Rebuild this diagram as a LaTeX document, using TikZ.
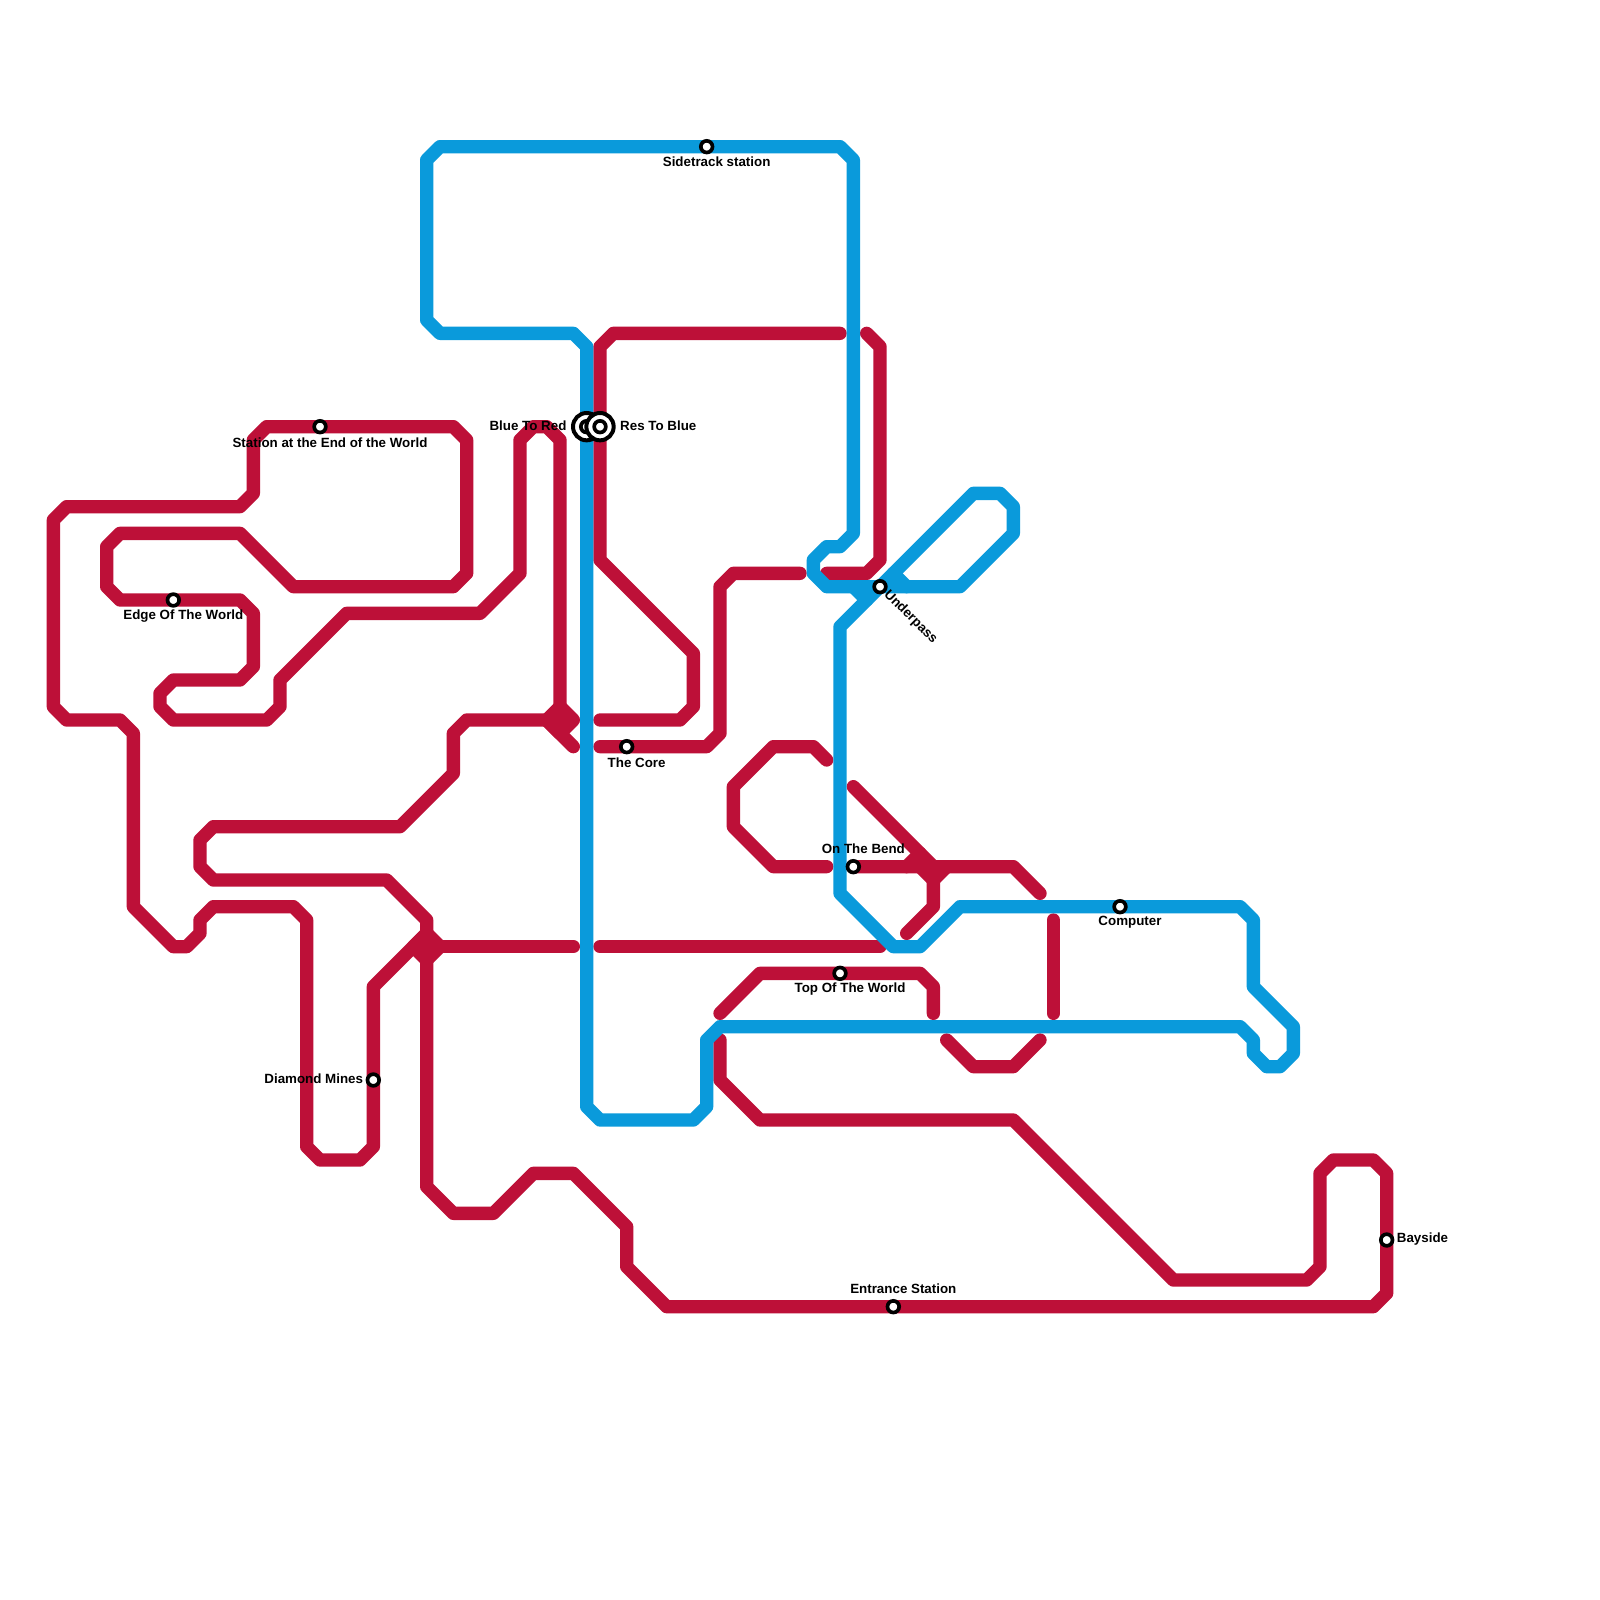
\documentclass[tikz,border=0pt]{standalone}
\usepackage{fontspec}
\setmainfont{Liberation Sans}
\tikzset{
  redline/.style={draw=metrored,line width=0.4cm,line cap=round,line join=round},
  blueline/.style={draw=metroblue,line width=0.4cm,line cap=round,line join=round},
  stationdot/.style={circle,draw=black,line width=0.11cm,fill=white,minimum size=0.35cm,inner sep=0pt},
  hubouter/.style={circle,draw=black,line width=0.12cm,fill=white,minimum size=0.82cm,inner sep=0pt},
  stationlabel/.style={inner sep=0pt,font=\fontsize{11.4}{13}\selectfont\bfseries,text=black}
}
\definecolor{metrored}{HTML}{BD1038}
\definecolor{metroblue}{HTML}{0A9ADB}
\begin{document}
\begin{tikzpicture}[x=0.4cm,y=-0.4cm]
\useasboundingbox[fill=white] (0,0) rectangle (120,120);
% red lines
\draw[redline] (42,53) -- (42,33) -- (41,32) -- (40,32) -- (39,33) -- (39,43) -- (36,46) -- (26,46) -- (21,51) -- (21,53) -- (20,54) -- (13,54) -- (12,53) -- (12,52) -- (13,51) -- (18,51) -- (19,50) -- (19,46) -- (18,45) -- (9,45) -- (8,44) -- (8,41) -- (9,40) -- (18,40) -- (22,44) -- (34,44) -- (35,43) -- (35,33) -- (34,32) -- (20,32) -- (19,33) -- (19,37) -- (18,38) -- (5,38) -- (4,39) -- (4,53) -- (5,54) -- (9,54) -- (10,55) -- (10,68) -- (13,71) -- (14,71) -- (15,70) -- (15,69) -- (16,68) -- (22,68) -- (23,69) -- (23,86) -- (24,87) -- (27,87) -- (28,86) -- (28,74) -- (32,70);
\draw[redline] (32,70) -- (32,69) -- (29,66) -- (16,66) -- (15,65) -- (15,63) -- (16,62) -- (30,62) -- (34,58) -- (34,55) -- (35,54) -- (41,54);
\fill[metrored] (42,53) -- (43,54) -- (42,55) -- (41,54) -- cycle;
\draw[redline] (42,53) -- (43,54) -- (42,55) -- (41,54) -- cycle;
\draw[redline] (41,54) -- (43,56);
\fill[metrored] (32,70) -- (33,71) -- (32,72) -- (31,71) -- cycle;
\draw[redline] (32,70) -- (33,71) -- (32,72) -- (31,71) -- cycle;
\draw[redline] (33,71) -- (43,71);
\draw[redline] (32,72) -- (32,89) -- (34,91) -- (37,91) -- (40,88) -- (43,88) -- (47,92) -- (47,95) -- (50,98) -- (103,98) -- (104,97) -- (104,88) -- (103,87) -- (100,87) -- (99,88) -- (99,95) -- (98,96) -- (88,96) -- (76,84) -- (57,84) -- (54,81) -- (54,78);
\draw[redline] (45,56) -- (53,56) -- (54,55) -- (54,44) -- (55,43) -- (60,43);
\draw[redline] (45,54) -- (51,54) -- (52,53) -- (52,49) -- (45,42) -- (45,26) -- (46,25) -- (63,25);
\draw[redline] (62,43) -- (65,43) -- (66,42) -- (66,26) -- (65,25);
\draw[redline] (45,71) -- (66,71);
\draw[redline] (54,76) -- (57,73) -- (69,73) -- (70,74) -- (70,76);
\draw[redline] (71,78) -- (73,80) -- (76,80) -- (78,78);
\draw[redline] (79,69) -- (79,76);
\draw[redline] (78,67) -- (76,65) -- (64,65);
\draw[redline] (62,65) -- (58,65) -- (55,62) -- (55,59) -- (58,56) -- (61,56) -- (62,57);
\draw[redline] (64,59) -- (70,65) -- (70,68) -- (68,70);
\draw[redline] (68,65) -- (69,64);
\draw[redline] (69,65) -- (70,66) -- (71,65);
% blue line
\draw[blueline] (32,12) -- (33,11) -- (63,11) -- (64,12) -- (64,40) -- (63,41) -- (62,41) -- (61,42) -- (61,43) -- (62,44) -- (72,44) -- (76,40) -- (76,38) -- (75,37) -- (73,37) -- (63,47) -- (63,67) -- (67,71) -- (69,71) -- (72,68) -- (93,68) -- (94,69) -- (94,74) -- (97,77) -- (97,79) -- (96,80) -- (95,80) -- (94,79) -- (94,78) -- (93,77) -- (54,77) -- (53,78) -- (53,83) -- (52,84) -- (45,84) -- (44,83) -- (44,26) -- (43,25) -- (33,25) -- (32,24) -- cycle;
\draw[blueline] (64,44) -- (65,45);
\draw[blueline] (67,43) -- (68,44);
% labels
\node[stationlabel,anchor=center] (l1) at (53.75,12.12) {Sidetrack station};
\node[stationlabel,anchor=center] (l2) at (24.75,33.17) {Station at the End of the World};
\node[stationlabel,anchor=center] (l3) at (13.75,46.2) {Edge Of The World};
\node[stationlabel,anchor=east] (l4) at (27.25,80.93) {Diamond Mines};
\node[stationlabel,anchor=center] (l5) at (47.75,57.2) {The Core};
\node[stationlabel,anchor=center] (l6) at (64.75,63.63) {On The Bend};
\node[stationlabel,anchor=center] (l7) at (63.75,74.2) {Top Of The World};
\node[stationlabel,anchor=center] (l8) at (84.75,69.2) {Computer};
\node[stationlabel,anchor=west] (l9) at (104.75,92.95) {Bayside};
\node[stationlabel,anchor=center] (l10) at (67.75,96.65) {Entrance Station};
\node[stationlabel,anchor=east] (l11) at (42.5,31.92) {Blue To Red};
\node[stationlabel,anchor=west] (l12) at (46.5,31.92) {Res To Blue};
\node[stationlabel,anchor=west,rotate=-45] (l13) at (66.45,44.45) {Underpass};
% stations
\node[stationdot] (s1) at (53,11) {};
\node[stationdot] (s2) at (24,32) {};
\node[stationdot] (s3) at (13,45) {};
\node[stationdot] (s4) at (28,81) {};
\node[stationdot] (s5) at (47,56) {};
\node[stationdot] (s6) at (64,65) {};
\node[stationdot] (s7) at (63,73) {};
\node[stationdot] (s8) at (84,68) {};
\node[stationdot] (s9) at (104,93) {};
\node[stationdot] (s10) at (67,98) {};
\node[stationdot] (s13) at (66,44) {};
\node[hubouter] (h1) at (44,32) {};
\node[stationdot] (h1i) at (44,32) {};
\node[hubouter] (h2) at (45,32) {};
\node[stationdot] (h2i) at (45,32) {};
\end{tikzpicture}
\end{document}
